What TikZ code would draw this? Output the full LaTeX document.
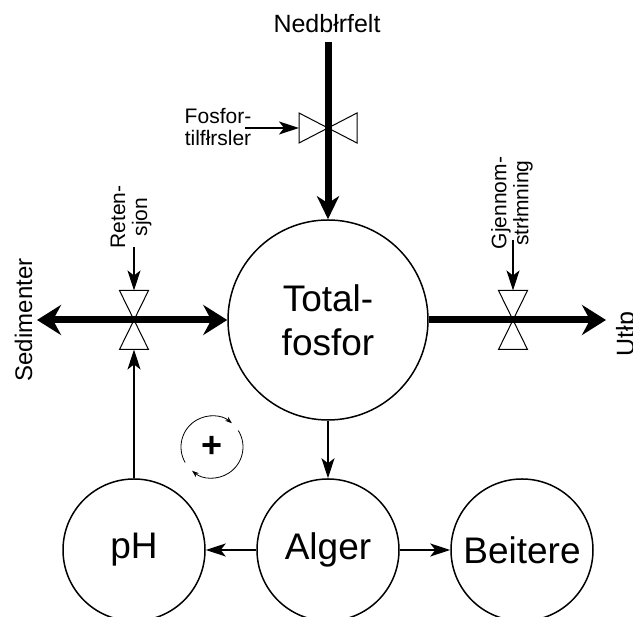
\documentclass[tikz,border=0pt]{standalone}
\usepackage{fontspec}
\setmainfont{Liberation Sans}
\usetikzlibrary{arrows.meta}
\begin{document}
\begin{tikzpicture}[x=1pt,y=1pt,
  big/.style={font=\fontsize{37}{44}\selectfont},
  mid/.style={font=\fontsize{25}{29}\selectfont},
  small/.style={font=\fontsize{21}{22}\selectfont},
  stock/.style={circle,draw,line width=1.5pt,inner sep=0pt},
  flow/.style={line width=7pt},
  hhead/.style={-{Stealth[length=24pt,width=30pt,inset=8pt]}},
  thin/.style={line width=1.3pt,-{Stealth[length=20pt,width=13pt,inset=5pt]}},
  valvebox/.style={draw,fill=white,line width=1pt}
]
\useasboundingbox (0,0) rectangle (633,617);
% stocks
\node[stock,minimum size=200pt,big,align=center] (tf) at (328,297) {Total-\\fosfor};
\node[stock,minimum size=142pt,big] (ph) at (134,67) {pH};
\node[stock,minimum size=142pt,big] (alger) at (328,67) {Alger};
\node[stock,minimum size=142pt,big] (beit) at (522,67) {Beitere};
% valves
\coordinate (v1) at (328,489);
\coordinate (v2) at (134,297);
\coordinate (v3) at (513,297);
\draw[valvebox] (v1) -- ++(-29,15) -- ++(0,-30) -- cycle;
\draw[valvebox] (v1) -- ++(29,15) -- ++(0,-30) -- cycle;
\draw[valvebox] (v2) -- ++(-14.5,29.5) -- ++(29,0) -- cycle;
\draw[valvebox] (v2) -- ++(-14.5,-29.5) -- ++(29,0) -- cycle;
\draw[valvebox] (v3) -- ++(-14.5,29.5) -- ++(29,0) -- cycle;
\draw[valvebox] (v3) -- ++(-14.5,-29.5) -- ++(29,0) -- cycle;
\coordinate (v1w) at (299,489);
\coordinate (v2n) at (134,326.5);
\coordinate (v2s) at (134,267.5);
\coordinate (v3n) at (513,326.5);
% labels
\node[mid,anchor=base] (nedb) at (327,584) {Nedbłrfelt};
\node[small,align=center] (fosl) at (218,489.5) {Fosfor-\\tilfłrsler};
\node[small,align=center,rotate=90] (ret) at (131,400) {Reten-\\sjon};
\node[small,align=center,rotate=90] (gjen) at (512,414) {Gjennom-\\strłmning};
\node[font=\fontsize{24}{28}\selectfont,rotate=90,anchor=base] (sed) at (32,297) {Sedimenter};
\node[mid,rotate=90,anchor=base] (utl) at (634,283) {Utłp};
% flows
\coordinate (nedtop) at (328,575);
\coordinate (sedtip) at (37,297);
\coordinate (uttip) at (606,297);
\draw[flow,-{Stealth[length=23pt,width=22pt,inset=7pt]}] (nedtop) -- (tf.north);
\draw[flow,{Stealth[length=24pt,width=30pt,inset=8pt]}-{Stealth[length=24pt,width=30pt,inset=8pt]}] (sedtip) -- (tf.west);
\draw[flow,hhead] (tf.east) -- (uttip);
% information arrows
\coordinate (fosa) at (245,489);
\coordinate (reta) at (134,370);
\coordinate (gjena) at (513,377);
\draw[thin] (fosa) -- (v1w);
\draw[thin] (reta) -- (v2n);
\draw[thin] (gjena) -- (v3n);
\draw[thin] (ph.north) -- (v2s);
\draw[thin] (tf.south) -- (alger.north);
\draw[thin] (alger.west) -- (ph.east);
\draw[thin] (alger.east) -- (beit.west);
% feedback loop
\coordinate (loop) at (212,170);
\node[font=\bfseries\fontsize{36}{40}\selectfont] (plus) at (loop) {+};
\draw[line width=0.8pt,-{Stealth[length=7pt,width=5pt]}] ([shift={(210:31)}]loop) arc[start angle=210,end angle=50,radius=31];
\draw[line width=0.8pt,-{Stealth[length=7pt,width=5pt]}] ([shift={(32:31)}]loop) arc[start angle=32,end angle=-130,radius=31];
\end{tikzpicture}
\end{document}
